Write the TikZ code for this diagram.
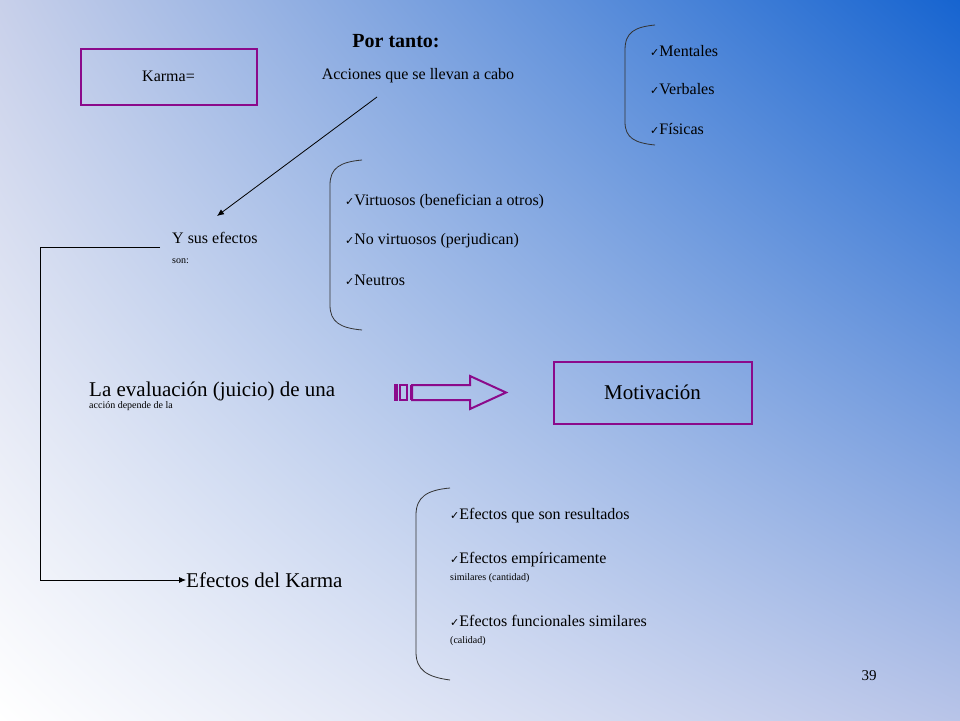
\documentclass[tikz,border=0pt]{standalone}
\usepackage{fontspec}
\setmainfont{Liberation Serif}
\usetikzlibrary{arrows.meta,shadings}
\definecolor{purp}{HTML}{8B0A8B}
\definecolor{cul}{RGB}{200,208,234}
\definecolor{cur}{RGB}{22,100,208}
\definecolor{clr}{RGB}{184,196,232}
\tikzset{
  box/.style={draw=purp,line width=2pt,minimum width=#1,minimum height=56pt,inner sep=0pt},
  txt/.style={anchor=west,inner sep=0pt,align=left},
  brace/.style={draw=black!80,line width=0.8pt},
  conn/.style={draw=black,line width=0.8pt,-{Latex[length=7pt,width=6pt]}}
}
\newcommand{\ck}{{\fontspec{DejaVu Sans}\fontsize{11}{11}\selectfont ✓}}
\begin{document}
\begin{tikzpicture}[x=1pt,y=-1pt]
\useasboundingbox (0,0) rectangle (960,720);
\shade[upper left=cul,upper right=cur,lower left=white,lower right=clr] (0,0) rectangle (960,720);
\node[box=176pt] (karma) at (168.5,76.5) {\fontsize{16}{16}\selectfont Karma=};
\node[box=198pt,minimum height=62pt] (motiv) at (652.5,392.5) {\fontsize{21}{21}\selectfont Motivación};
\node (por) at (396,41) {\fontsize{20}{20}\selectfont\bfseries Por tanto:};
\node (acc) at (418,76) {\fontsize{16}{16}\selectfont Acciones que se llevan a cabo};
\node[txt] (ment) at (650,51) {\fontsize{16}{16}\selectfont\ck Mentales};
\node[txt] (verb) at (650,89) {\fontsize{16}{16}\selectfont\ck Verbales};
\node[txt] (fis) at (650,129) {\fontsize{16}{16}\selectfont\ck Físicas};
\node[txt] (y) at (172,248) {\fontsize{16}{20}\selectfont Y sus efectos\\[8pt]son:};
\node[txt] (v1) at (345,202) {\fontsize{16}{16}\selectfont\ck Virtuosos (benefician a otros)};
\node[txt] (v2) at (345,241) {\fontsize{16}{16}\selectfont\ck No virtuosos (perjudican)};
\node[txt] (v3) at (345,280) {\fontsize{16}{16}\selectfont\ck Neutros};
\node[txt] (eval) at (89,396) {\fontsize{21}{30}\selectfont La evaluación (juicio) de una\\acción depende de la};
\node[txt] (ek) at (186,580) {\fontsize{21}{21}\selectfont Efectos del Karma};
\node[txt] (e1) at (450,516) {\fontsize{16}{16}\selectfont\ck Efectos que son resultados};
\node[txt] (e2) at (450,567) {\fontsize{16}{20}\selectfont\ck Efectos empíricamente\\[5pt]similares (cantidad)};
\node[txt] (e3) at (450,630) {\fontsize{16}{20}\selectfont\ck Efectos funcionales similares\\[5pt](calidad)};
\node (pg) at (869,676) {\fontsize{15}{15}\selectfont 39};
% braces
\draw[brace] (655,25) .. controls (635,27) and (625,32) .. (625,50) -- (625,122) .. controls (625,138) and (635,143) .. (655,145);
\draw[brace] (362,160) .. controls (340,162) and (330,168) .. (330,185) -- (330,305) .. controls (330,322) and (340,328) .. (362,330);
\draw[brace] (450,488) .. controls (427,490) and (416,497) .. (416,515) -- (416,652) .. controls (416,670) and (427,677) .. (450,680);
% connectors
\coordinate (a0) at (377,97);
\coordinate (a1) at (217,216);
\draw[conn] (a0) -- (a1);
\coordinate (l0) at (160,247);
\draw[conn] (l0) -- (40,247) -- (40,580) -- (ek.west);
% block arrow
\draw[purp,line width=2pt] (412,385) -- (470,385) -- (470,376) -- (506,392.5) -- (470,409) -- (470,400) -- (412,400) -- cycle;
\fill[purp] (394,384) rectangle (398,401);
\draw[purp,line width=1.5pt] (400,385) rectangle (407,400);
\draw[purp,line width=1pt] (410,385) -- (410,400);
\end{tikzpicture}
\end{document}
